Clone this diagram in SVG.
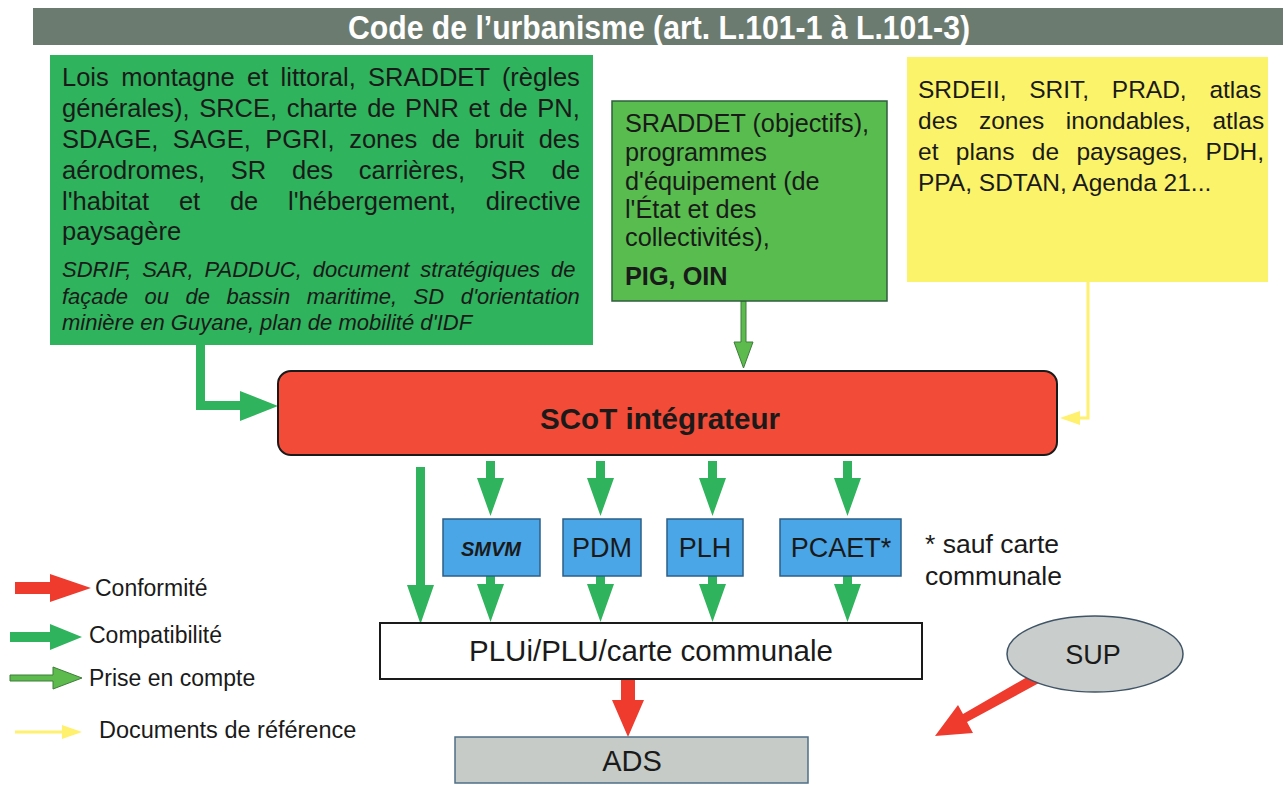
<svg xmlns="http://www.w3.org/2000/svg" width="1288" height="787" viewBox="0 0 1288 787">
  <style>
    .t { font-family: "Liberation Sans", Arial, sans-serif; fill: #1a1a1a; }
    .b { font-weight: bold; }
    .i { font-style: italic; }
    .title { font-family: "Liberation Sans", Arial, sans-serif; font-weight: bold; fill: #ffffff; font-size: 33px; }
    .green { fill: #2fb35c; }
    .pec { fill: #5cbb4c; stroke: #3f7d3a; stroke-width: 1; }
    .red { fill: #ee3b2e; }
    .blue { fill: #4aa6e6; stroke: #2b5f88; stroke-width: 1.5; }
  </style>
  <defs>
    <marker id="hYellow" markerUnits="userSpaceOnUse" markerWidth="22" markerHeight="16" refX="0" refY="8" orient="auto">
      <path d="M0,1 L20,8 L0,15 z" fill="#fff06e"/>
    </marker>
  </defs>

  <rect width="1288" height="787" fill="#ffffff"/>

  <!-- title bar -->
  <g id="title">
    <rect x="33" y="8" width="1250" height="37" fill="#6c7b70"/>
    <text class="title" x="659" y="39" text-anchor="middle" textLength="622" lengthAdjust="spacingAndGlyphs">Code de l’urbanisme (art. L.101-1 à L.101-3)</text>
  </g>

  <!-- connectors -->
  <g id="connectors">
    <!-- left box to SCoT (compatibilité) -->
    <path class="green" d="M196,345 H205 V401 H240 V391 L278,406 L240,421 V410 H196 Z"/>
    <!-- middle box to SCoT (prise en compte) -->
    <path class="pec" d="M741,301 H746 V342 H753 L743.5,368 L734,342 H741 Z"/>
    <!-- yellow box to SCoT (documents de référence) -->
    <polyline points="1088,282 1088,418 1080,418" fill="none" stroke="#fff06e" stroke-width="3" marker-end="url(#hYellow)"/>
    <!-- SCoT to PLUi direct -->
    <path class="green" d="M416,467 H425 V585 H434 L420.5,624 L407,585 H416 Z"/>
    <!-- SCoT to SMVM / PDM / PLH / PCAET -->
    <path class="green" d="M486,461 H495 V478 H504 L490.5,516 L477,478 H486 Z"/>
    <path class="green" d="M596,461 H605 V478 H614 L600.5,516 L587,478 H596 Z"/>
    <path class="green" d="M708,461 H717 V478 H726 L712.5,516 L699,478 H708 Z"/>
    <path class="green" d="M843,461 H852 V478 H861 L847.5,516 L834,478 H843 Z"/>
    <!-- SMVM / PDM / PLH / PCAET to PLUi -->
    <path class="green" d="M486,576 H495 V584 H504 L490.5,622 L477,584 H486 Z"/>
    <path class="green" d="M596,576 H605 V584 H614 L600.5,622 L587,584 H596 Z"/>
    <path class="green" d="M708,576 H717 V584 H726 L712.5,622 L699,584 H708 Z"/>
    <path class="green" d="M843,576 H852 V584 H861 L847.5,622 L834,584 H843 Z"/>
    <!-- PLUi to ADS (conformité) -->
    <path class="red" d="M621,679 H635 V700 H644 L628,737 L612,700 H621 Z"/>
    <!-- SUP to ADS area (conformité) -->
    <path class="red" d="M1034,673 L1039,683 L967,722 L973,733 L935,736 L958,705 L963,714 Z"/>
  </g>

  <!-- top left: compatibility documents -->
  <g id="docs-compatibilite">
    <rect x="50" y="55" width="543" height="290" fill="#2fb35c"/>
    <g class="t" font-size="25.5">
      <text x="62" y="86" word-spacing="5.3">Lois montagne et littoral, SRADDET (règles</text>
      <text x="62" y="117" word-spacing="2.5">générales), SRCE, charte de PNR et de PN,</text>
      <text x="62" y="148" word-spacing="7.4">SDAGE, SAGE, PGRI, zones de bruit des</text>
      <text x="62" y="179" word-spacing="18.6">aérodromes, SR des carrières, SR de</text>
      <text x="62" y="210" word-spacing="22.7">l'habitat et de l'hébergement, directive</text>
      <text x="62" y="240">paysagère</text>
    </g>
    <g class="t i" font-size="22">
      <text x="62" y="277" word-spacing="4.8">SDRIF, SAR, PADDUC, document stratégiques de</text>
      <text x="62" y="304" word-spacing="10.4">façade ou de bassin maritime, SD d'orientation</text>
      <text x="62" y="330">minière en Guyane, plan de mobilité d'IDF</text>
    </g>
  </g>

  <!-- top middle: documents taken into account -->
  <g id="docs-prise-en-compte">
    <rect x="612" y="101" width="275" height="200" fill="#58bd4e" stroke="#2f5d3e" stroke-width="1.5"/>
    <g class="t" font-size="25.3">
      <text x="625" y="132">SRADDET (objectifs),</text>
      <text x="625" y="161">programmes</text>
      <text x="625" y="190">d'équipement (de</text>
      <text x="625" y="218">l'État et des</text>
      <text x="625" y="246">collectivités),</text>
      <text x="625" y="285" class="b">PIG, OIN</text>
    </g>
  </g>

  <!-- top right: reference documents -->
  <g id="docs-reference">
    <rect x="907" y="57" width="361" height="225" fill="#fbf46b"/>
    <g class="t" font-size="24.5">
      <text x="918" y="98" word-spacing="15.9">SRDEII, SRIT, PRAD, atlas</text>
      <text x="918" y="129" word-spacing="14.6">des zones inondables, atlas</text>
      <text x="918" y="160" word-spacing="10.6">et plans de paysages, PDH,</text>
      <text x="918" y="191">PPA, SDTAN, Agenda 21...</text>
    </g>
  </g>

  <!-- SCoT -->
  <g id="scot">
    <rect x="278" y="371" width="779" height="84" rx="13" ry="13" fill="#f24b37" stroke="#1a1a1a" stroke-width="2"/>
    <text class="t b" x="660" y="429" font-size="30" text-anchor="middle" textLength="240" lengthAdjust="spacingAndGlyphs">SCoT intégrateur</text>
  </g>

  <!-- intermediate plans -->
  <g id="smvm">
    <rect class="blue" x="443" y="519" width="97" height="57"/>
    <text class="t b i" x="491" y="556" font-size="20" text-anchor="middle">SMVM</text>
  </g>
  <g id="pdm">
    <rect class="blue" x="563" y="519" width="78" height="57"/>
    <text class="t" x="602" y="557" font-size="27" text-anchor="middle">PDM</text>
  </g>
  <g id="plh">
    <rect class="blue" x="667" y="519" width="76" height="57"/>
    <text class="t" x="705" y="557" font-size="27" text-anchor="middle">PLH</text>
  </g>
  <g id="pcaet">
    <rect class="blue" x="780" y="519" width="121" height="57"/>
    <text class="t" x="841" y="557" font-size="27" text-anchor="middle">PCAET*</text>
  </g>
  <g id="note">
    <text class="t" x="925" y="553" font-size="26.5">* sauf carte</text>
    <text class="t" x="925" y="585" font-size="26.5">communale</text>
  </g>

  <!-- PLUi -->
  <g id="plui">
    <rect x="380" y="623" width="542" height="56" fill="#ffffff" stroke="#1a1a1a" stroke-width="2"/>
    <text class="t" x="651" y="661" font-size="29.5" text-anchor="middle">PLUi/PLU/carte communale</text>
  </g>

  <!-- ADS -->
  <g id="ads">
    <rect x="455" y="737" width="353" height="46" fill="#c6cbc7" stroke="#4d6f86" stroke-width="1.5"/>
    <text class="t" x="632" y="771" font-size="29" text-anchor="middle">ADS</text>
  </g>

  <!-- SUP -->
  <g id="sup">
    <ellipse cx="1095" cy="654" rx="88" ry="38" fill="#c9cdcb" stroke="#3f5466" stroke-width="1.5"/>
    <text class="t" x="1093" y="664" font-size="27" text-anchor="middle">SUP</text>
  </g>

  <!-- legend -->
  <g id="legend">
    <path class="red" d="M15,582 H50 V574 L91,588 L50,602 V594 H15 Z"/>
    <text class="t" x="95" y="596" font-size="23">Conformité</text>
    <path class="green" d="M10,632 H50 V624 L82,637 L50,650 V642 H10 Z"/>
    <text class="t" x="89" y="643" font-size="23">Compatibilité</text>
    <path class="pec" d="M10,675 H53 V667 L82,678 L53,689 V681 H10 Z"/>
    <text class="t" x="89" y="686" font-size="23">Prise en compte</text>
    <line x1="15" y1="732" x2="62" y2="732" stroke="#fff06e" stroke-width="3" marker-end="url(#hYellow)"/>
    <text class="t" x="99" y="738" font-size="23.5">Documents de référence</text>
  </g>
</svg>
